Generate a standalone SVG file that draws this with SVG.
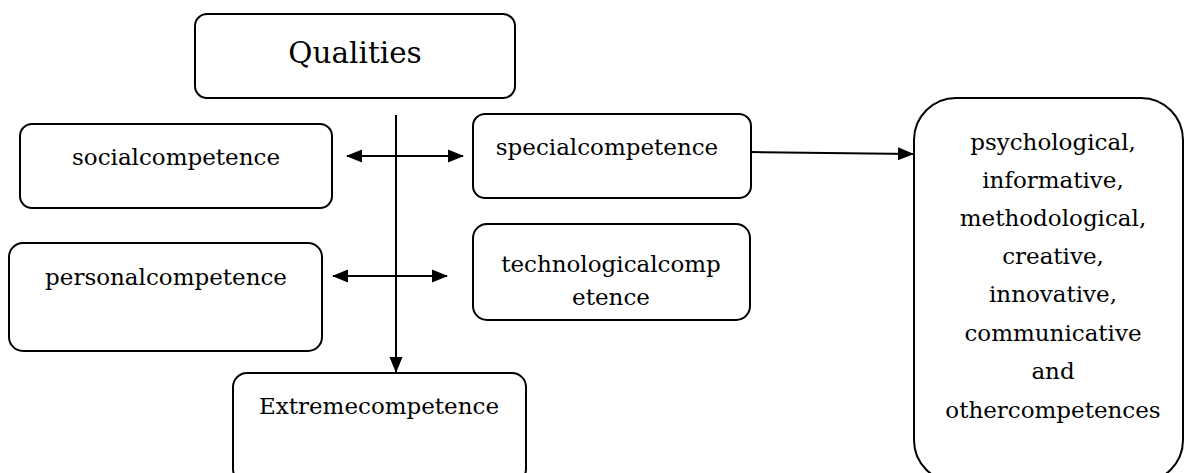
<svg xmlns="http://www.w3.org/2000/svg" width="1184" height="473" viewBox="0 0 1184 473">
<style>
.box{fill:#fff;stroke:#000;stroke-width:2}
.t{font-size:23px;fill:#000;text-anchor:middle}
.ln{stroke:#000;stroke-width:2;fill:none}
</style>
<defs>
<marker id="ah" markerWidth="16" markerHeight="16" viewBox="0 0 16 16" refX="15" refY="8" orient="auto-start-reverse" markerUnits="userSpaceOnUse">
<path d="M0,1.5 L16,8 L0,14.5 Z" fill="#000"/>
</marker>
</defs>
<rect width="1184" height="473" fill="#fff"/>
<g font-family="'DejaVu Serif', 'Liberation Serif', serif">
<g id="qualities">
<rect class="box" x="195" y="14" width="320" height="84" rx="12"/>
<text class="t" x="355" y="63" style="font-size:29.5px">Qualities</text>
</g>
<g id="social">
<rect class="box" x="20" y="124" width="312" height="84" rx="12"/>
<text class="t" x="176" y="165">socialcompetence</text>
</g>
<g id="special">
<rect class="box" x="473" y="114" width="278" height="84" rx="12"/>
<text class="t" x="607" y="155">specialcompetence</text>
</g>
<g id="personal">
<rect class="box" x="9" y="243" width="313" height="108" rx="14"/>
<text class="t" x="166" y="285">personalcompetence</text>
</g>
<g id="technological">
<rect class="box" x="473" y="224" width="277" height="96" rx="14"/>
<text class="t" x="611" y="272">technologicalcomp</text>
<text class="t" x="611" y="305">etence</text>
</g>
<g id="extreme">
<rect class="box" x="233" y="373" width="293" height="110" rx="14"/>
<text class="t" x="379" y="414">Extremecompetence</text>
</g>
<g id="others">
<rect class="box" x="914" y="98" width="269" height="384" rx="42"/>
<text class="t" x="1053" y="150">psychological,</text>
<text class="t" x="1053" y="188">informative,</text>
<text class="t" x="1053" y="226">methodological,</text>
<text class="t" x="1053" y="264">creative,</text>
<text class="t" x="1053" y="302">innovative,</text>
<text class="t" x="1053" y="341">communicative</text>
<text class="t" x="1053" y="379">and</text>
<text class="t" x="1053" y="418">othercompetences</text>
</g>
</g>
<g id="connectors">
<line class="ln" x1="396" y1="115" x2="396" y2="372" marker-end="url(#ah)"/>
<line class="ln" x1="347" y1="156" x2="463" y2="156" marker-start="url(#ah)" marker-end="url(#ah)"/>
<line class="ln" x1="333" y1="276" x2="447" y2="276" marker-start="url(#ah)" marker-end="url(#ah)"/>
<line class="ln" x1="751" y1="152" x2="913" y2="154" marker-end="url(#ah)"/>
</g>
</svg>
